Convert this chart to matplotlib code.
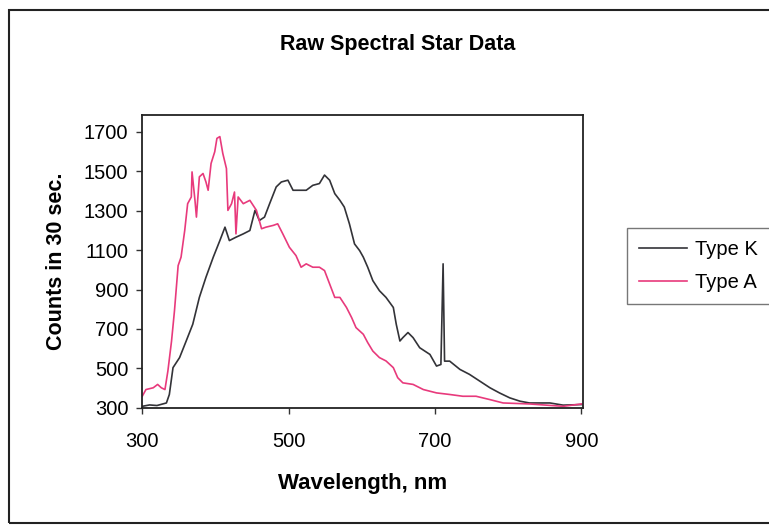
import matplotlib
matplotlib.use("Agg")
from matplotlib import pyplot as plt
from matplotlib.patches import Rectangle

plt.rcParams['font.family'] = ['Liberation Sans', 'DejaVu Sans']

# Type K spectrum (wavelength nm, counts in 30 s)
k_wl = [300, 310, 320, 333, 337, 342, 351, 360, 369, 378, 387, 397, 406, 413,
        419, 428, 438, 447, 454, 460, 467, 474, 483, 490, 499, 506, 515, 524,
        533, 542, 549, 556, 563, 570, 576, 583, 590, 597, 602, 608, 615, 624,
        633, 643, 647, 652, 656, 663, 670, 679, 693, 702, 708, 711, 713, 720,
        734, 747, 761, 775, 788, 802, 816, 829, 857, 875, 900]
k_counts = [308, 315, 312, 325, 368, 504, 555, 639, 724, 860, 962, 1064, 1148, 1216,
            1148, 1165, 1182, 1199, 1301, 1250, 1267, 1335, 1420, 1445, 1454, 1403, 1403, 1403,
            1428, 1437, 1480, 1454, 1386, 1352, 1318, 1233, 1131, 1097, 1064, 1013, 945, 894,
            860, 809, 724, 639, 656, 682, 656, 605, 571, 512, 520, 1030, 537, 537,
            495, 470, 436, 402, 376, 351, 334, 325, 325, 314, 317]

# Type A spectrum
a_wl = [300, 305, 315, 321, 326, 331, 335, 340, 344, 349, 353, 358, 362, 367,
        368, 372, 374, 378, 383, 387, 390, 394, 399, 402, 406, 410, 415, 417,
        422, 426, 428, 431, 438, 447, 456, 463, 469, 479, 485, 492, 501, 510,
        517, 524, 533, 542, 549, 556, 563, 570, 579, 586, 592, 602, 608, 615,
        624, 633, 643, 649, 656, 670, 684, 702, 720, 738, 756, 775, 793, 829,
        875, 900]
a_counts = [359, 393, 402, 419, 402, 393, 487, 639, 792, 1021, 1064, 1199, 1335, 1369,
            1496, 1352, 1267, 1471, 1488, 1445, 1403, 1539, 1598, 1666, 1675, 1590, 1513, 1301,
            1335, 1394, 1182, 1369, 1335, 1352, 1301, 1208, 1216, 1225, 1233, 1182, 1114, 1072,
            1013, 1030, 1013, 1013, 996, 928, 860, 860, 809, 758, 707, 673, 631, 588,
            555, 538, 504, 453, 427, 419, 393, 376, 368, 359, 359, 342, 325, 320,
            308, 320]

x_ticks = [300, 500, 700, 900]
y_ticks = [300, 500, 700, 900, 1100, 1300, 1500, 1700]

fig = plt.figure(figsize=(7.69, 5.27), dpi=100)
ax = fig.add_axes([0.185, 0.226, 0.573, 0.556])

ax.plot(k_wl, k_counts, color='#333338', lw=1.2, label='Type K')
ax.plot(a_wl, a_counts, color='#e83a7c', lw=1.2, label='Type A')

ax.set_xlim(300, 902)
ax.set_ylim(300, 1785)
ax.set_xticks(x_ticks)
ax.set_yticks(y_ticks)
ax.tick_params(direction='out', length=4, width=1, labelsize=14.5, color='#333333')
ax.tick_params(axis='x', pad=13)
ax.tick_params(axis='y', pad=6)
for s in ax.spines.values():
    s.set_linewidth(1.3)
    s.set_color('#222222')

ax.set_xlabel('Wavelength, nm', fontsize=16, fontweight='bold', labelpad=16)
ax.set_ylabel('Counts in 30 sec.', fontsize=15.5, fontweight='bold', labelpad=12)
fig.text(0.517, 0.915, 'Raw Spectral Star Data', ha='center', va='center',
         fontsize=15.5, fontweight='bold')

leg = fig.legend(loc='upper left', bbox_to_anchor=(0.815, 0.567), fontsize=14.5,
                 frameon=True, fancybox=False, handlelength=2.4, handletextpad=0.4,
                 borderpad=0.6, labelspacing=0.7, borderaxespad=0)
leg.get_frame().set_edgecolor('#555555')
leg.get_frame().set_linewidth(1.0)

# outer chart border
fig.patches.append(Rectangle((0.012, 0.008), 1.1, 0.973, transform=fig.transFigure,
                             fill=False, edgecolor='#222222', lw=1.5))

fig.savefig('out.png', dpi=100)
